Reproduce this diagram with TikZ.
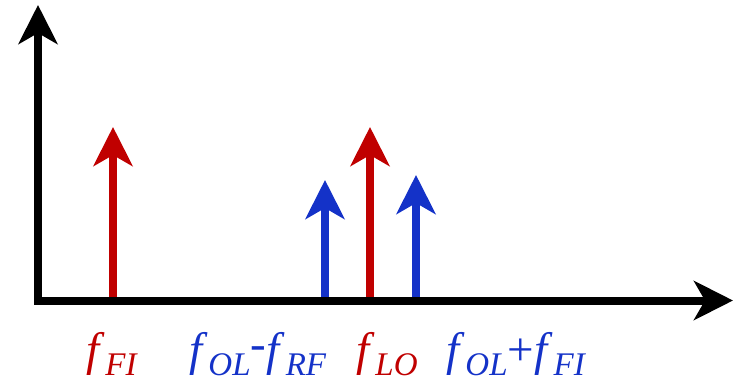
\documentclass[tikz,border=0pt]{standalone}
\usepackage{fontspec}
\setmainfont{Liberation Serif}
\usetikzlibrary{arrows.meta}
\definecolor{lored}{HTML}{C00000}
\definecolor{mixblue}{HTML}{1432C8}
\newcommand{\fsub}[1]{\textit{f}\kern1pt\raisebox{-10pt}{\fontsize{33}{33}\selectfont\textit{#1}}}

\begin{document}
\begin{tikzpicture}[>={Stealth[length=39pt,width=39pt,inset=11pt]},x=1pt,y=-1pt,line width=8pt,
  lbl/.style={anchor=base west,inner sep=0pt,font=\fontsize{47}{47}\selectfont}]
\useasboundingbox (0,0) rectangle (738,382);
% axes
\coordinate (o) at (38,300.5);
\draw[->] (38,304.5) -- (38,5);
\draw[->] (34,300.5) -- (733,300.5);
% spectral lines
\draw[->,lored] (113,297) -- (113,127);
\draw[->,mixblue] (325,297) -- (325,180);
\draw[->,lored] (370,297) -- (370,127);
\draw[->,mixblue] (416,297) -- (416,175);
% labels
\node[lbl,lored] (fi) at (82,365) {\fsub{FI}};
\node[lbl,mixblue] (diff) at (185,365) {\fsub{OL}\raisebox{6pt}{-}\fsub{RF}};
\node[lbl,lored] (lo) at (352,365) {\fsub{LO}};
\node[lbl,mixblue] (sum) at (442,365) {\fsub{OL}+\fsub{FI}};
\end{tikzpicture}
\end{document}
